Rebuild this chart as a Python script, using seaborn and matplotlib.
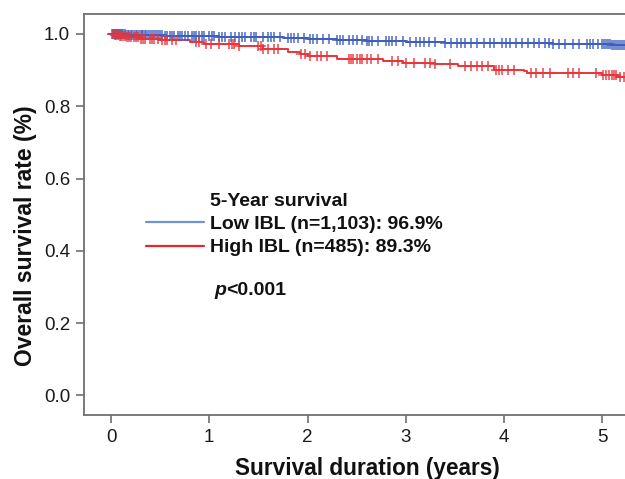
import numpy as np
import pandas as pd
import matplotlib
matplotlib.use("Agg")
import matplotlib.pyplot as plt
import seaborn as sns
from matplotlib.lines import Line2D

# Kaplan-Meier step tables (time in years, survival)
low_times = [0.0, 0.05, 0.15, 0.3, 0.55, 0.8, 1.1, 1.5, 1.75, 2.0, 2.3, 2.6, 3.0, 3.4, 3.9, 4.5, 4.9, 5.1, 5.3]
low_surv = [1.0, 0.999, 0.998, 0.997, 0.995, 0.993, 0.992, 0.990, 0.988, 0.985, 0.983, 0.980, 0.978, 0.976,
            0.975, 0.973, 0.971, 0.968, 0.968]
high_times = [0.0, 0.03, 0.08, 0.15, 0.3, 0.5, 0.8, 0.95, 1.3, 1.55, 1.8, 1.92, 2.0, 2.3, 2.77, 2.97, 3.3,
              3.53, 3.9, 4.2, 4.23, 5.0, 5.15, 5.3]
high_surv = [1.0, 0.996, 0.993, 0.990, 0.987, 0.984, 0.978, 0.971, 0.967, 0.958, 0.951, 0.943, 0.938, 0.931,
             0.925, 0.920, 0.917, 0.912, 0.900, 0.896, 0.892, 0.886, 0.880, 0.880]

# censoring times ("+" marks)
low_censor = [0.01, 0.02, 0.03, 0.04, 0.05, 0.06, 0.07, 0.08, 0.09, 0.1, 0.11, 0.12, 0.14, 0.15, 0.17, 0.18,
              0.2, 0.21, 0.23, 0.25, 0.26, 0.28, 0.3, 0.32, 0.33, 0.35, 0.36, 0.38, 0.4, 0.42, 0.44, 0.46,
              0.48, 0.5, 0.52, 0.55, 0.57, 0.6, 0.62, 0.64, 0.68, 0.7, 0.72, 0.75, 0.78, 0.82, 0.84, 0.86,
              0.9, 0.93, 0.95, 1.0, 1.03, 1.05, 1.1, 1.13, 1.16, 1.22, 1.26, 1.3, 1.33, 1.36, 1.42, 1.45,
              1.48, 1.55, 1.6, 1.63, 1.66, 1.72, 1.8, 1.83, 1.86, 1.9, 1.96, 2.02, 2.06, 2.1, 2.16, 2.22,
              2.3, 2.33, 2.36, 2.42, 2.46, 2.5, 2.55, 2.6, 2.63, 2.66, 2.72, 2.8, 2.83, 2.86, 2.9, 2.97,
              3.04, 3.1, 3.14, 3.18, 3.24, 3.3, 3.4, 3.46, 3.52, 3.56, 3.6, 3.66, 3.72, 3.8, 3.86, 3.9,
              3.98, 4.02, 4.06, 4.12, 4.18, 4.24, 4.3, 4.36, 4.42, 4.46, 4.5, 4.56, 4.62, 4.7, 4.76, 4.84,
              4.87, 4.9, 4.96, 5.0, 5.02, 5.04, 5.06, 5.08, 5.1, 5.12, 5.14, 5.16, 5.18, 5.2, 5.22]
high_censor = [0.02, 0.04, 0.05, 0.07, 0.09, 0.1, 0.12, 0.14, 0.16, 0.18, 0.2, 0.23, 0.25, 0.27, 0.31, 0.33,
               0.35, 0.4, 0.42, 0.44, 0.48, 0.52, 0.55, 0.57, 0.62, 0.66, 0.86, 0.9, 0.97, 1.02, 1.1, 1.2,
               1.23, 1.25, 1.3, 1.5, 1.53, 1.55, 1.6, 1.66, 1.7, 1.93, 1.97, 2.02, 2.1, 2.14, 2.2, 2.42,
               2.44, 2.46, 2.5, 2.53, 2.55, 2.6, 2.65, 2.72, 2.86, 2.92, 3.0, 3.08, 3.2, 3.25, 3.3, 3.45,
               3.6, 3.66, 3.72, 3.78, 3.84, 3.92, 3.95, 3.98, 4.04, 4.1, 4.27, 4.32, 4.4, 4.47, 4.65, 4.7,
               4.76, 4.94, 5.01, 5.04, 5.07, 5.1, 5.12, 5.14, 5.18, 5.22]

legend_labels = ["5-Year survival", "Low IBL (n=1,103): 96.9%", "High IBL (n=485): 89.3%"]

blue = "#3f5fbf"
red = "#e8363b"


def at_censor(times, surv, censor):
    idx = np.searchsorted(times, censor, side="right") - 1
    return pd.DataFrame({"t": censor, "s": np.asarray(surv)[idx]})


sns.set_style("white")
plt.rcParams["font.family"] = ["Liberation Sans", "DejaVu Sans"]

fig = plt.figure(figsize=(6.25, 4.79), dpi=100)
ax = fig.add_axes([0.1344, 0.1336, 0.908, 0.8372])

for times, surv, censor, col in [(low_times, low_surv, low_censor, blue),
                                 (high_times, high_surv, high_censor, red)]:
    steps = pd.DataFrame({"t": times, "s": surv})
    sns.lineplot(data=steps, x="t", y="s", drawstyle="steps-post", color=col,
                 linewidth=1.4, ax=ax, legend=False)
    marks = at_censor(times, surv, censor)
    sns.scatterplot(data=marks, x="t", y="s", marker="+", s=60, linewidth=1.2,
                    color=col, alpha=0.85, ax=ax, legend=False, zorder=3)

ax.set_xlim(-0.275, 5.5)
ax.set_ylim(-0.054, 1.055)
ax.set_xticks([0, 1, 2, 3, 4, 5])
ax.set_yticks([0.0, 0.2, 0.4, 0.6, 0.8, 1.0])
ax.set_yticklabels(["0.0", "0.2", "0.4", "0.6", "0.8", "1.0"])

for sp in ax.spines.values():
    sp.set_color("#707070")
    sp.set_linewidth(1.3)
ax.tick_params(axis="both", direction="out", length=6, width=1.2, color="#707070",
               labelsize=13.5, labelcolor="#1a1a1a", pad=4, left=True, bottom=True)

ax.set_xlabel("Survival duration (years)", fontsize=16.3, fontweight="bold", color="#111111")
ax.set_ylabel("Overall survival rate (%)", fontsize=16.5, fontweight="bold", color="#111111")
ax.xaxis.set_label_coords(0.499, -0.104)
ax.yaxis.set_label_coords(-0.083, 0.446)

handles = [Line2D([], [], color="none"),
           Line2D([], [], color="#6f93d3", linewidth=1.6),
           Line2D([], [], color="#e5262b", linewidth=1.6)]
leg = ax.legend(handles, legend_labels, loc="upper left", bbox_to_anchor=(0.078, 0.6),
                frameon=False, handlelength=3.0, handletextpad=0.3, labelspacing=0.3,
                prop={"weight": "bold", "size": 14})
for txt in leg.get_texts():
    txt.set_color("#111111")

ptxt = ax.text(0.23, 0.31, "p", transform=ax.transAxes, fontsize=14, fontweight="bold",
               fontstyle="italic", color="#111111", va="center")
ax.annotate("<0.001", xy=(1, 0), xycoords=ptxt, va="bottom", ha="left", fontsize=14,
            fontweight="bold", color="#111111")

fig.savefig("out.png", dpi=100)
